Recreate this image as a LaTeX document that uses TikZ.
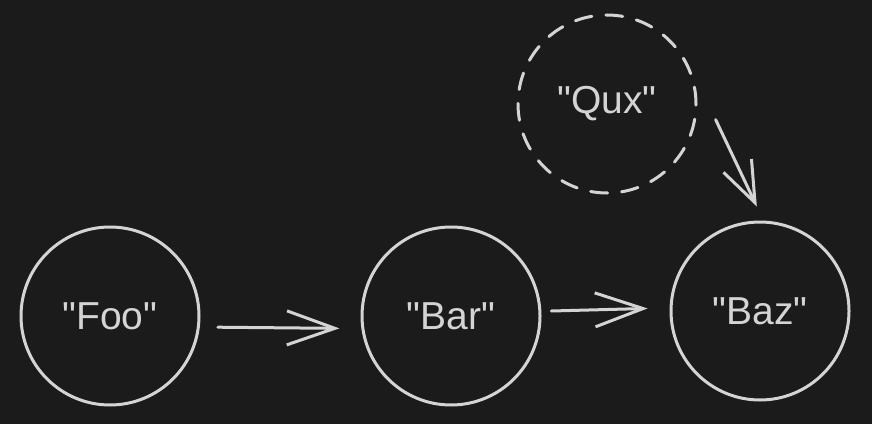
\documentclass[tikz,border=0pt]{standalone}
\usepackage{fontspec}
\setmainfont{Liberation Sans}[Ligatures=TeXOff]
\usetikzlibrary{arrows.meta,positioning}

\definecolor{bgdark}{HTML}{1B1B1B}
\definecolor{ink}{HTML}{D4D4D4}

\begin{document}
\begin{tikzpicture}[x=1pt,y=1pt,>={Straight Barb[length=48pt,width=34pt]},
    line cap=round,line join=round,
    state/.style={circle,draw=ink,line width=3pt,minimum size=178pt,inner sep=0pt,
        text=ink,font=\fontsize{39}{42}\selectfont},
    link/.style={->,draw=ink,line width=3pt},
    ghost/.style={dash pattern=on 17pt off 14pt}]

            \fill[bgdark] (0,0) rectangle (872,424);
            \useasboundingbox (0,0) rectangle (872,424);

            \node[state] (foo) at (110,108) {"Foo"};

            \node[state] (bar) [right=160pt of foo] {"Bar"};

            \node[state] (baz) [right=128pt of bar,yshift=5pt] {"Baz"};

            \node[state,ghost] (qux) [above=26pt of baz,xshift=-153pt] {"Qux"};

            

            \path (foo.-7) edge [link,shorten <=18pt,shorten >=22pt] (bar.188)

                  (bar.3) edge [link,shorten <=10pt,shorten >=22pt] (baz.178);

            \draw[link,>={Straight Barb[length=41pt,width=31pt]}]
                ([shift={(19pt,-3pt)}]qux.-8) -- ([yshift=14pt]baz.92);

        \end{tikzpicture}
\end{document}
